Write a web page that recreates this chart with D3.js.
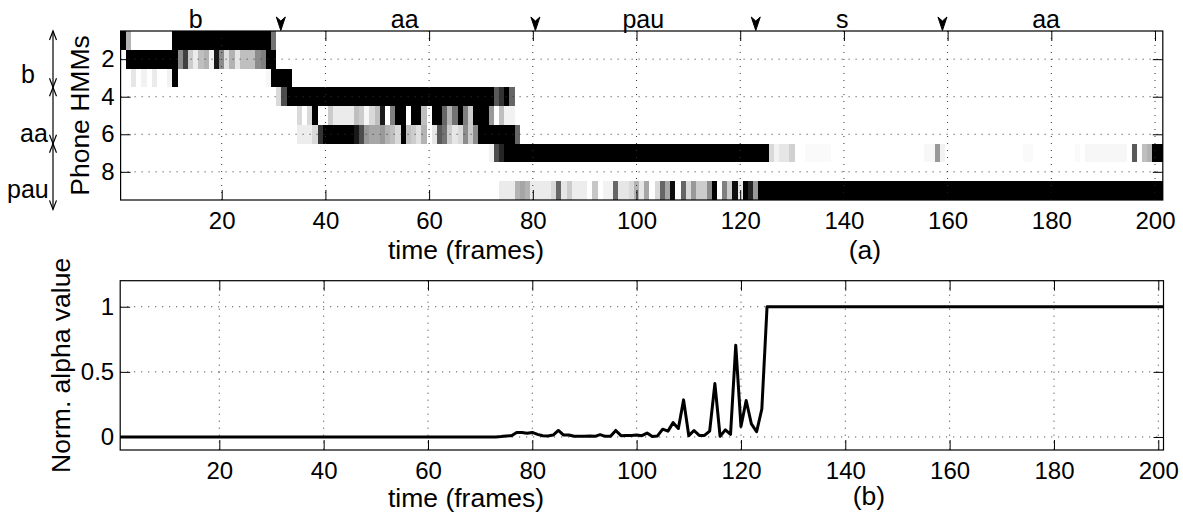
<!DOCTYPE html>
<html><head><meta charset="utf-8">
<script src="https://cdn.jsdelivr.net/npm/d3@7"></script>
<style>
body{margin:0;background:#fff}
text{font-family:"Liberation Sans",Arial,Helvetica,sans-serif;fill:#000}
</style>
</head><body>
<svg id="chart" width="1183" height="514"></svg>
<script>
// ---------------- data ----------------
const frameTicks = [20, 40, 60, 80, 100, 120, 140, 160, 180, 200];
const stateTicks = [2, 4, 6, 8];
const alphaTicks = [0, 0.5, 1];
const alphaTickLabels = ["0", "0.5", "1"];
const nFrames = 201;
const nStates = 9;

// phone segmentation shown above panel (a)
const phoneLabels = ["b", "aa", "pau", "s", "aa"];
const phoneLabelFrames = [15, 55.3, 101.3, 139.7, 179];
const phoneBoundaries = [31.4, 80.5, 123, 159];

// HMM state groups shown left of panel (a)
const hmmGroups = ["b", "aa", "pau"];
const hmmGroupSpans = [[0.5, 3.5], [3.5, 6.5], [6.5, 10]];

// heat-map rows: [firstFrame, lastFrame, darkness 0..1]
const row1 = [[1,1,1],[2,2,0.3],[11,29,1],[30,30,0.55]];
const row2 = [[2,11,1],[12,12,0.45],[13,13,0.75],[14,14,0.2],[15,15,0.08],[16,16,0.25],[17,17,0.3],[18,18,0.05],[19,19,0.9],[20,20,0.45],[21,21,0.12],[22,22,0.3],[23,23,0.1],[24,26,0.25],[27,27,0.45],[28,28,0.5],[29,30,1]];
const row3 = [[3,3,0.1],[5,5,0.05],[7,7,0.08],[10,10,0.05],[11,11,1],[29,29,0.03],[30,33,1]];
const row4 = [[31,31,0.15],[32,32,0.7],[33,72,1],[73,73,0.65],[74,74,0.8],[75,75,1],[76,76,0.6]];
const row5 = [[35,35,0.15],[37,37,0.15],[38,38,1],[41,41,0.2],[42,45,0.08],[46,46,0.25],[47,47,0.2],[48,48,0.03],[49,49,0.15],[50,50,0.25],[51,51,0.9],[53,53,0.5],[54,55,1],[57,58,1],[59,59,0.25],[61,62,1],[63,63,0.6],[64,64,0.3],[65,65,0.55],[66,66,1],[67,67,0.5],[68,68,0.2],[69,71,1],[72,72,0.4],[74,74,0.25],[75,76,0.05]];
const row6 = [[35,37,0.07],[38,38,0.15],[39,39,0.8],[40,45,1],[46,46,0.9],[47,47,0.7],[48,48,0.4],[49,50,0.35],[51,51,0.4],[52,52,0.3],[53,53,0.25],[54,54,0.15],[55,55,1],[56,56,0.25],[57,57,0.2],[58,58,0.12],[59,59,0.3],[61,61,0.1],[62,62,0.65],[63,63,0.55],[64,64,0.2],[65,65,0.1],[66,66,0.15],[67,67,0.45],[68,68,0.2],[69,69,0.45],[70,76,1],[77,77,0.6]];
const row7 = [[72,72,0.05],[73,73,0.7],[74,74,0.85],[75,125,1],[126,126,0.15],[127,127,0.05],[128,129,0.1],[130,130,0.18],[133,137,0.02],[156,157,0.03],[158,158,0.4],[159,159,0.05],[175,176,0.02],[185,185,0.02],[187,194,0.03],[196,196,0.65],[198,198,0.25],[199,199,0.3],[200,201,1]];
const row8 = [];
const row9 = [[74,76,0.08],[77,77,0.3],[78,78,0.35],[79,79,0.3],[80,83,0.08],[84,84,0.15],[85,85,0.6],[86,86,0.1],[87,87,0.2],[88,90,0.07],[92,92,0.22],[94,95,0.05],[96,96,0.6],[97,98,0.1],[99,99,0.15],[100,100,0.3],[101,101,0.1],[102,102,0.35],[104,104,0.15],[105,105,0.6],[106,106,0.35],[107,107,0.95],[109,109,0.6],[110,110,0.15],[111,111,0.4],[112,113,0.2],[114,114,0.45],[115,115,1],[117,117,0.5],[118,118,0.2],[119,119,0.95],[120,120,0.1],[121,121,1],[122,122,0.85],[123,123,0.4],[124,201,1]];
const heatRows = [row1, row2, row3, row4, row5, row6, row7, row8, row9];

// normalised alpha value, frames 1..201
const alpha = [
  0,0,0,0,0,0,0,0,0,0,
  0,0,0,0,0,0,0,0,0,0,
  0,0,0,0,0,0,0,0,0,0,
  0,0,0,0,0,0,0,0,0,0,
  0,0,0,0,0,0,0,0,0,0,
  0,0,0,0,0,0,0,0,0,0,
  0,0,0,0,0,0,0,0,0,0,
  0,0,0,
  0.003,0.008,0.01,0.035,0.035,0.028,0.035,0.02,0.01,0.008,
  0.015,0.05,0.015,0.015,0.005,0.005,0.005,0.008,0.005,0.018,
  0.005,0.005,0.05,0.01,0.012,0.012,0.015,0.01,0.03,0.003,
  0.008,0.06,0.045,0.11,0.065,0.285,0.01,0.05,0.012,0.012,
  0.045,0.41,0.005,0.055,0.02,0.705,0.08,0.28,0.1,0.04,
  0.215,1,
  1,1,1,1,1,1,1,1,1,1,
  1,1,1,1,1,1,1,1,1,1,
  1,1,1,1,1,1,1,1,1,1,
  1,1,1,1,1,1,1,1,1,1,
  1,1,1,1,1,1,1,1,1,1,
  1,1,1,1,1,1,1,1,1,1,
  1,1,1,1,1,1,1,1,1,1,
  1,1,1,1,1,1
];

// ---------------- drawing ----------------
const svg = d3.select("#chart");
const TICK_FS = 24, LABEL_FS = 26.5, ANNOT_FS = 25;
const gridDash = "1,6";

// panel (a) geometry
const A = {left: 120.6, right: 1162.8, top: 31, bottom: 200};
const xA = d3.scaleLinear().domain([0.5, nFrames + 0.5]).range([A.left, A.right]);
const yA = d3.scaleLinear().domain([0.5, nStates + 0.5]).range([A.top, A.bottom]);

// expand rows
const cells = [];
heatRows.forEach((segs, r) => {
  segs.forEach(([f0, f1, v]) => {
    for (let f = f0; f <= f1; f++) cells.push({state: r + 1, frame: f, v});
  });
});
const gray = v => { const c = Math.round(255 * (1 - v)); return `rgb(${c},${c},${c})`; };

const gA = svg.append("g");
gA.append("g").attr("shape-rendering", "crispEdges")
  .selectAll("rect").data(cells).join("rect")
  .attr("x", d => xA(d.frame - 0.5))
  .attr("width", d => xA(d.frame + 0.5) - xA(d.frame - 0.5))
  .attr("y", d => yA(d.state - 0.5))
  .attr("height", d => yA(d.state + 0.5) - yA(d.state - 0.5))
  .attr("fill", d => gray(d.v));

function gridAndAxes(g, x, y, box, xt, yt, ytLabels) {
  // grid
  g.append("g").selectAll("line").data(xt).join("line")
    .attr("x1", d => x(d)).attr("x2", d => x(d))
    .attr("y1", box.top).attr("y2", box.bottom)
    .attr("stroke", "#333").attr("stroke-width", 1).attr("stroke-dasharray", gridDash);
  g.append("g").selectAll("line").data(yt).join("line")
    .attr("y1", d => y(d)).attr("y2", d => y(d))
    .attr("x1", box.left).attr("x2", box.right)
    .attr("stroke", "#333").attr("stroke-width", 1).attr("stroke-dasharray", gridDash);
  // axes (ticks inward on all sides)
  const bAxis = g.append("g").attr("transform", `translate(0,${box.bottom})`)
    .call(d3.axisBottom(x).tickValues(xt).tickSize(-10).tickPadding(12).tickFormat(d3.format("d")));
  const tAxis = g.append("g").attr("transform", `translate(0,${box.top})`)
    .call(d3.axisTop(x).tickValues(xt).tickSize(-10).tickFormat(""));
  const lAxis = g.append("g").attr("transform", `translate(${box.left},0)`)
    .call(d3.axisLeft(y).tickValues(yt).tickSize(-10).tickPadding(6)
      .tickFormat((d, i) => ytLabels ? ytLabels[i] : d));
  const rAxis = g.append("g").attr("transform", `translate(${box.right},0)`)
    .call(d3.axisRight(y).tickValues(yt).tickSize(-10).tickFormat(""));
  [bAxis, tAxis, lAxis, rAxis].forEach(a => {
    a.select(".domain").remove();
    a.selectAll("line").attr("stroke", "#000");
    a.selectAll("text").attr("font-size", TICK_FS).attr("font-family", null);
  });
  g.append("rect").attr("x", box.left).attr("y", box.top)
    .attr("width", box.right - box.left).attr("height", box.bottom - box.top)
    .attr("fill", "none").attr("stroke", "#000").attr("stroke-width", 1.2);
}
gridAndAxes(gA, xA, yA, A, frameTicks, stateTicks, null);

// labels panel (a)
gA.append("text").attr("x", 466).attr("y", 259).attr("text-anchor", "middle")
  .attr("font-size", LABEL_FS).text("time (frames)");
gA.append("text").attr("x", 865).attr("y", 259).attr("text-anchor", "middle")
  .attr("font-size", LABEL_FS).text("(a)");
gA.append("text").attr("transform", `translate(89,${yA(5)}) rotate(-90)`)
  .attr("text-anchor", "middle").attr("font-size", LABEL_FS).text("Phone HMMs");

// phone labels and boundary arrows above panel (a)
gA.append("g").selectAll("text").data(phoneLabels).join("text")
  .attr("x", (d, i) => xA(phoneLabelFrames[i])).attr("y", 28)
  .attr("text-anchor", "middle").attr("font-size", ANNOT_FS).text(d => d);
gA.append("g").selectAll("path").data(phoneBoundaries).join("path")
  .attr("d", d => { const x = xA(d), y1 = A.top - 0.5, y0 = 17;
    return `M${x - 4.5},${y0} L${x},${y0 + 4} L${x + 4.5},${y0} L${x},${y1} Z`; })
  .attr("fill", "#000").attr("stroke", "#000").attr("stroke-width", 1).attr("stroke-linejoin", "round");

// HMM group arrows on the left
const ax = 53;
const gL = gA.append("g").attr("stroke", "#000").attr("stroke-width", 1.2).attr("fill", "none");
hmmGroupSpans.forEach(([s0, s1]) => {
  const y0 = yA(s0), y1 = yA(s1);
  gL.append("line").attr("x1", ax).attr("x2", ax).attr("y1", y0).attr("y2", y1);
  gL.append("path").attr("d", `M${ax - 3.5},${y0 + 9} L${ax},${y0} L${ax + 3.5},${y0 + 9}`);
  gL.append("path").attr("d", `M${ax - 3.5},${y1 - 9} L${ax},${y1} L${ax + 3.5},${y1 - 9}`);
});
const groupLabelPos = [[21, 83], [20, 142], [7, 198]];
gA.append("g").selectAll("text").data(hmmGroups).join("text")
  .attr("x", (d, i) => groupLabelPos[i][0]).attr("y", (d, i) => groupLabelPos[i][1])
  .attr("font-size", ANNOT_FS).text(d => d);

// panel (b)
const B = {left: 120.2, right: 1163.5, top: 280.7, bottom: 450};
const xB = d3.scaleLinear().domain([1, nFrames]).range([B.left, B.right]);
const yB = d3.scaleLinear().domain([-0.1, 1.2]).range([B.bottom, B.top]);
const gB = svg.append("g");
gridAndAxes(gB, xB, yB, B, frameTicks, alphaTicks, alphaTickLabels);
gB.append("path").datum(alpha)
  .attr("d", d3.line().x((d, i) => xB(i + 1)).y(d => yB(d)))
  .attr("fill", "none").attr("stroke", "#000").attr("stroke-width", 3)
  .attr("stroke-linejoin", "round");
gB.append("text").attr("x", 466).attr("y", 507).attr("text-anchor", "middle")
  .attr("font-size", LABEL_FS).text("time (frames)");
gB.append("text").attr("x", 869).attr("y", 505).attr("text-anchor", "middle")
  .attr("font-size", LABEL_FS).text("(b)");
gB.append("text").attr("transform", `translate(70,${yB(0.55)}) rotate(-90)`)
  .attr("text-anchor", "middle").attr("font-size", LABEL_FS).text("Norm. alpha value");
</script>
</body></html>
